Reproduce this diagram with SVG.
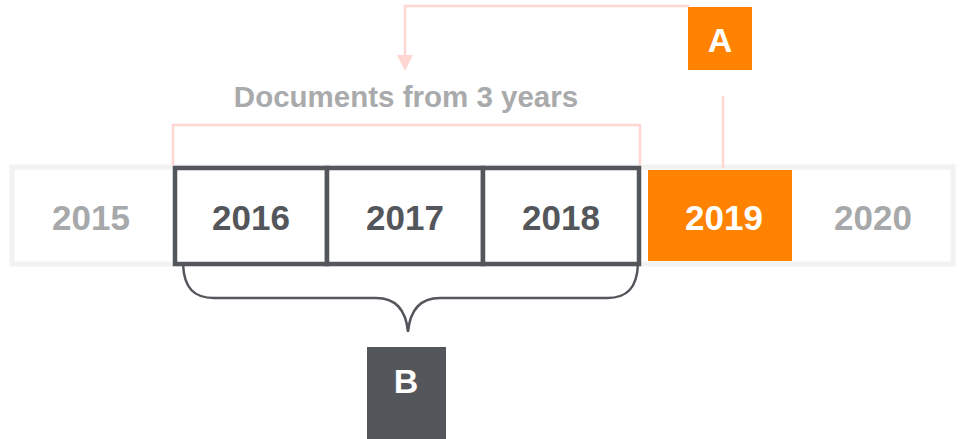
<svg xmlns="http://www.w3.org/2000/svg" width="961" height="439" viewBox="0 0 961 439">
<style>
.yr{font-family:"Liberation Sans",Arial,sans-serif;font-weight:bold;font-size:35px;text-anchor:middle}
.lt{fill:#a7a8aa}
.dk{fill:#53565a}
.wh{fill:#ffffff}
.pink{fill:none;stroke:#ffd6d2;stroke-width:2.5}
.dbox{fill:#ffffff;stroke:#53565a;stroke-width:4.5}
.lbl{font-family:"Liberation Sans",Arial,sans-serif;font-weight:bold;font-size:34px;text-anchor:middle;fill:#ffffff}
</style>
<rect width="961" height="439" fill="#ffffff"/>
<g id="band"><rect x="12" y="167" width="941" height="97" fill="#ffffff" stroke="#f2f2f2" stroke-width="5"/></g>
<g id="connectors">
<path class="pink" d="M173,165 L173,125 L640,125 L640,165"/>
<path class="pink" d="M723,96 L723,168"/>
<path class="pink" d="M689,6 L405,6 L405,55"/>
<path d="M397,55 L413,55 L405,71 Z" fill="#ffd6d2"/>
<path d="M183,264 C184,288 194,298 214,298 L376,298 C396,298 406,310 408,332 C410,310 420,298 440,298 L607,298 C627,298 637,288 638,264" fill="none" stroke="#53565a" stroke-width="2.5"/>
</g>
<g id="y2015"><text class="yr lt" x="91" y="230">2015</text></g>
<g id="y2016"><rect class="dbox" x="175" y="168" width="152" height="96"/><text class="yr dk" x="251" y="230">2016</text></g>
<g id="y2017"><rect class="dbox" x="327" y="168" width="156" height="96"/><text class="yr dk" x="405" y="230">2017</text></g>
<g id="y2018"><rect class="dbox" x="483" y="168" width="156" height="96"/><text class="yr dk" x="561" y="230">2018</text></g>
<g id="y2019"><rect x="648" y="170" width="144" height="91" fill="#ff8200"/><text class="yr wh" x="724" y="230">2019</text></g>
<g id="y2020"><text class="yr lt" x="873" y="230">2020</text></g>
<g id="caption"><text x="406" y="107" font-family="Liberation Sans, Arial, sans-serif" font-weight="bold" font-size="29.5" text-anchor="middle" fill="#a9aaac">Documents from 3 years</text></g>
<g id="A"><rect x="688" y="7" width="64" height="63" fill="#ff8200"/><text class="lbl" x="720" y="52">A</text></g>
<g id="B"><rect x="367" y="347" width="79" height="92" fill="#53565a"/><text class="lbl" x="406" y="393">B</text></g>
</svg>
